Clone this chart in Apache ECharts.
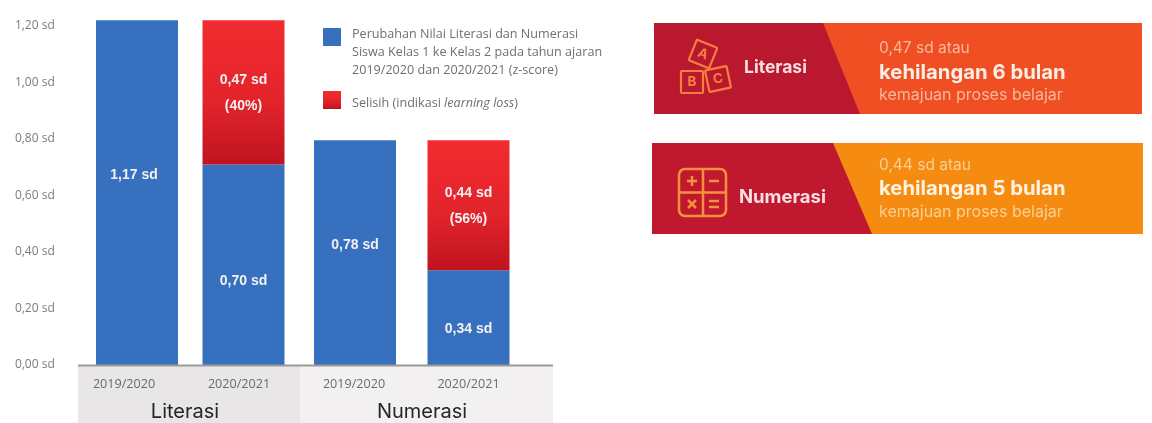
<!DOCTYPE html>
<html><head><meta charset="utf-8">
<style>html,body{margin:0;padding:0;background:#fff}#c{width:1152px;height:423px}</style>
<script src="https://cdn.jsdelivr.net/npm/echarts@6/dist/echarts.min.js"></script>
</head><body><div id="c"></div>
<script>
const groups = ['Literasi', 'Numerasi'];
const years = ['2019/2020', '2020/2021'];
const tickValues = [0, 0.2, 0.4, 0.6, 0.8, 1.0, 1.2];
const literasiBlue = [1.22, 0.71];
const literasiRed = [null, 0.51];
const numerasiBlue = [0.795, 0.335];
const numerasiRed = [null, 0.46];
// printed labels
const literasiBlueLabels = ['1,17 sd', '0,70 sd'];
const literasiRedLabels = ['', '0,47 sd\n(40%)'];
const numerasiBlueLabels = ['0,78 sd', '0,34 sd'];
const numerasiRedLabels = ['', '0,44 sd\n(56%)'];
const legendBlue = 'Perubahan Nilai Literasi dan Numerasi\nSiswa Kelas 1 ke Kelas 2 pada tahun ajaran\n2019/2020 dan 2020/2021 (z-score)';
const legendRed = 'Selisih (indikasi {i|learning loss})';

const BLUE = '#3870c0';
const RED = {type:'linear',x:0,y:0,x2:0,y2:1,colorStops:[{offset:0,color:'#f22c30'},{offset:0.55,color:'#e3242b'},{offset:1,color:'#bf1420'}]};
const AXMAX = 1.221;
const F = '"Open Sans", Lato, sans-serif';
const POP = 'Inter, "Noto Sans", sans-serif';

function bar(name, grid, values, labels, color, offsets, stack) {
  return {
    name, type:'bar', stack, xAxisIndex:grid, yAxisIndex:grid, barWidth:82, silent:true,
    itemStyle:{color},
    data: values.map((v,i)=>({value:v,
      label:{show:!!labels[i],position:'inside',formatter:labels[i],offset:offsets[i],
        color:'#f4f1f1',fontFamily:'"Liberation Sans"',fontWeight:'bold',fontSize:14,lineHeight:26}}))
  };
}
function xAxis(grid,pads){return {type:'category',gridIndex:grid,data:years,
  axisLine:{show:false},axisTick:{show:false},
  axisLabel:{interval:0,hideOverlap:false,margin:13,fontFamily:F,fontSize:12.6,color:'#6b6b6b',
    formatter:(v,i)=>'{p'+i+'|'+v+'}',
    rich:{p0:{padding:[0,pads[0],0,0],fontFamily:F,fontSize:12.6,color:'#6b6b6b'},
          p1:{padding:[0,pads[1],0,0],fontFamily:F,fontSize:12.6,color:'#6b6b6b'}}}};}
function yAxis(grid,show){return {type:'value',gridIndex:grid,min:0,max:AXMAX,splitLine:{show:false},
  axisLine:{show:false},axisTick:{show:false},
  axisLabel:{show,customValues:tickValues,margin:29,fontFamily:F,fontSize:12,color:'#7c7c7c',padding:[0,0,4,0],
    formatter:v=>v.toFixed(2).replace('.',',')+' sd'}};}

function txt(x,y,text,size,color,weight,family){return {type:'text',x,y,z:5,silent:true,
  style:{text,fontSize:size,fill:color,fontWeight:weight||'normal',fontFamily:family||POP,verticalAlign:'middle',align:'left'}};}
function ctxt(x,y,text,size,color){const t=txt(x,y,text,size,color);t.style.align='center';return t;}
function poly(points,fill,z){return {type:'polygon',z:z||1,silent:true,shape:{points},style:{fill}};}
const ICON='#f5803e', ICON2='#f7903c';
function block(x,y,s,rot,letter){return {type:'group',x,y,rotation:rot*Math.PI/180,children:[
  {type:'rect',z:5,silent:true,shape:{x:-s/2,y:-s/2,width:s,height:s,r:1},style:{fill:'none',stroke:ICON,lineWidth:2.2}},
  {type:'text',z:5,silent:true,style:{x:0,y:0,text:letter,align:'center',verticalAlign:'middle',fontSize:13.5,fontWeight:'bold',fontFamily:POP,fill:ICON}}]};}
function ln(x1,y1,x2,y2,c,w){return {type:'line',z:5,silent:true,shape:{x1,y1,x2,y2},style:{stroke:c,lineWidth:w}};}

const graphic = [
  {type:'rect',z:-1,silent:true,shape:{x:78,y:366,width:222,height:57},style:{fill:'#e8e6e7'}},
  {type:'rect',z:-1,silent:true,shape:{x:300,y:366,width:253,height:57},style:{fill:'#f2f0f1'}},
  ln(78,365.5,553,365.5,'#9a9a98',2),
  ctxt(185,412,groups[0],20,'#262626'),
  ctxt(422,412,groups[1],20,'#262626'),

  {type:'rect',z:1,silent:true,shape:{x:654,y:23,width:488,height:91},style:{fill:'#f04e23'}},
  poly([[654,23],[823,23],[860,114],[654,114]],'#b9182e',2),
  block(703,54,22,-22,'A'),block(692,82,22,0,'B'),block(718,79,22,12,'C'),
  txt(744,68,groups[0],17.5,'#f8dfe0','bold'),
  txt(879,48,'0,47 sd atau',15.5,'#f9b89c'),
  txt(879,73,'kehilangan 6 bulan',20.3,'#fdeee6','bold'),
  txt(879,95,'kemajuan proses belajar',16,'#f9b89c'),

  {type:'rect',z:1,silent:true,shape:{x:652,y:143,width:491,height:91},style:{fill:'#f68b12'}},
  poly([[652,143],[833,143],[872,234],[652,234]],'#c0182f',2),
  {type:'rect',z:5,silent:true,shape:{x:679,y:169,width:47,height:47,r:6},style:{fill:'none',stroke:ICON2,lineWidth:2.5}},
  ln(703,169,703,216,ICON2,2.5),ln(679,192.5,726,192.5,ICON2,2.5),
  ln(687,181,697,181,ICON2,2.5),ln(692,176,692,186,ICON2,2.5),
  ln(709,181,719,181,ICON2,2.5),
  ln(688,200,696,208,ICON2,2.5),ln(696,200,688,208,ICON2,2.5),
  ln(709,201,719,201,ICON2,2.5),ln(709,207,719,207,ICON2,2.5),
  txt(739,197,groups[1],18.5,'#f8dfe0','bold'),
  txt(879,165,'0,44 sd atau',15.5,'#fbcf95'),
  txt(879,189,'kehilangan 5 bulan',20.3,'#fff3e2','bold'),
  txt(879,212,'kemajuan proses belajar',16,'#fbcf95')
];

const chart = echarts.init(document.getElementById('c'),null,{renderer:'canvas'});
chart.setOption({
  animation:false, backgroundColor:'#fff',
  grid:[
    {left:83.75,width:213,top:20,bottom:58,containLabel:false},
    {left:298.25,width:227,top:20,bottom:58,containLabel:false}
  ],
  xAxis:[xAxis(0,[26,9]),xAxis(1,[2,0])],
  yAxis:[yAxis(0,true),yAxis(1,false)],
  legend:{
    left:323,top:-5,padding:0,orient:'vertical',itemWidth:18,itemHeight:18,itemGap:9,selectedMode:false,icon:'rect',
    data:[
      {name:'blue',textStyle:{padding:[30,0,0,6]}},
      {name:'red',textStyle:{padding:[6,0,0,6]}}
    ],
    textStyle:{fontFamily:F,fontSize:12.6,color:'#6f6f6f',lineHeight:18,
      rich:{i:{fontFamily:F,fontSize:12.6,color:'#6f6f6f',fontStyle:'italic'}}},
    formatter:n=>n==='blue'?legendBlue:legendRed
  },
  series:[
    bar('blue',0,literasiBlue,literasiBlueLabels,BLUE,[[-3,-18],[0,16]],'a'),
    bar('red',0,literasiRed,literasiRedLabels,RED,[[0,0],[0,1]],'a'),
    bar('blue',1,numerasiBlue,numerasiBlueLabels,BLUE,[[0,-8],[0,11]],'b'),
    bar('red',1,numerasiRed,numerasiRedLabels,RED,[[0,0],[0,1]],'b')
  ],
  graphic
});
</script></body></html>
